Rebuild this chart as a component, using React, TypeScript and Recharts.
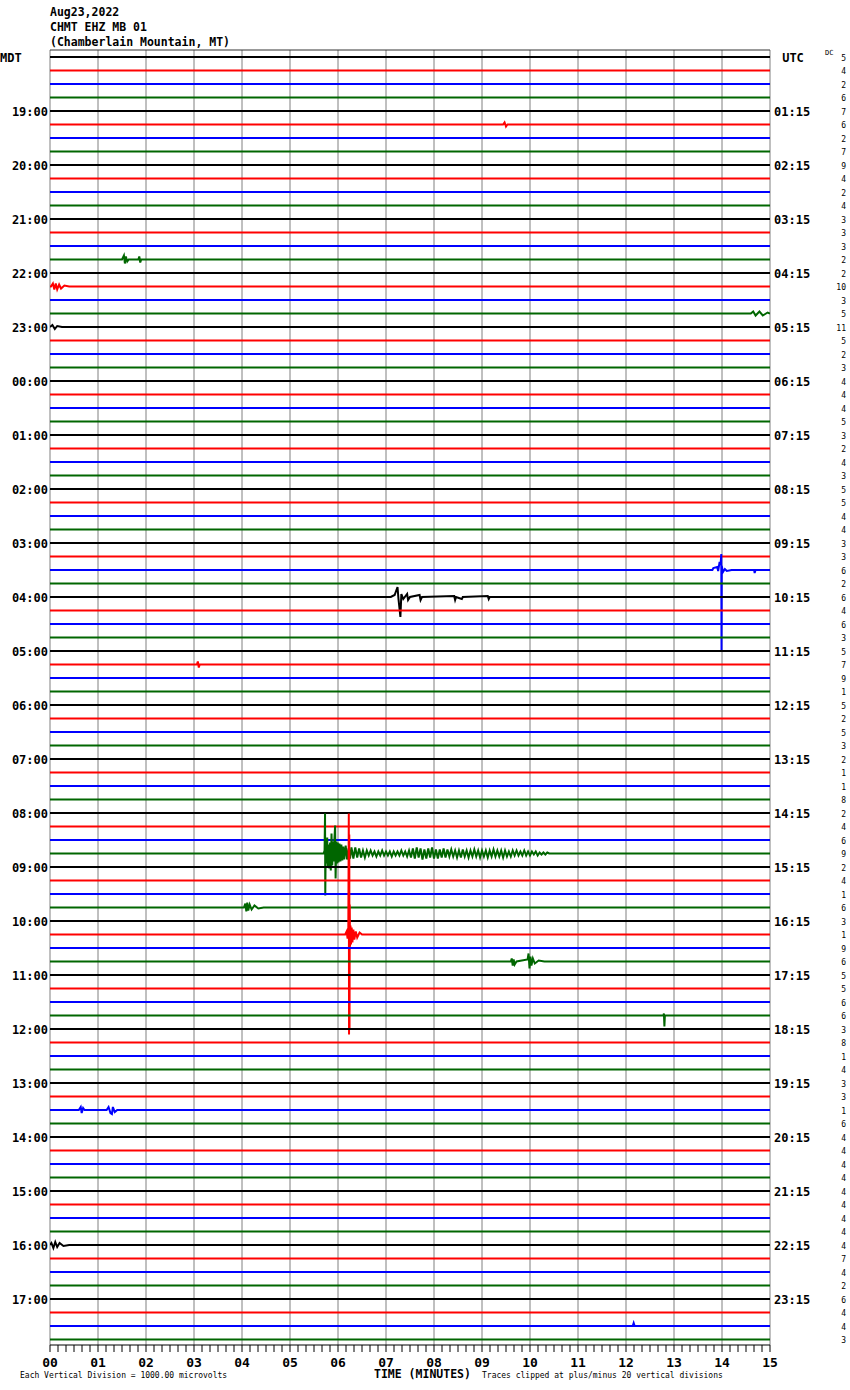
import { ComposedChart, Line, ReferenceLine, XAxis, YAxis } from "recharts";

// helicorder layout: 96 traces (15 min each), 13.5 px apart
const ROW_GAP = 13.5;
const ROWS = 96;
const PLOT_TOP = 50;
const PLOT_BOTTOM = 1345;
const FIRST_TRACE = 57;
const MONO = '"DejaVu Sans Mono", monospace';

const ROW_COLORS = ["#000000", "#ff0000", "#0000ff", "#006600"];

const HOUR_LABELS = [
  "MDT", "19:00", "20:00", "21:00", "22:00", "23:00", "00:00", "01:00",
  "02:00", "03:00", "04:00", "05:00", "06:00", "07:00", "08:00", "09:00",
  "10:00", "11:00", "12:00", "13:00", "14:00", "15:00", "16:00", "17:00",
];

const UTC_LABELS = [
  "UTC", "01:15", "02:15", "03:15", "04:15", "05:15", "06:15", "07:15",
  "08:15", "09:15", "10:15", "11:15", "12:15", "13:15", "14:15", "15:15",
  "16:15", "17:15", "18:15", "19:15", "20:15", "21:15", "22:15", "23:15",
];

const DC_VALUES = [
  5, 4, 2, 6, 7, 6, 2, 7, 9, 4, 2, 4, 3, 3, 3, 2,
  2, 10, 3, 5, 11, 5, 2, 3, 4, 4, 4, 5, 3, 2, 4, 3,
  5, 5, 4, 4, 3, 3, 6, 2, 6, 4, 6, 3, 5, 7, 9, 1,
  5, 2, 5, 3, 2, 1, 1, 8, 2, 4, 6, 9, 2, 4, 1, 6,
  3, 1, 9, 6, 5, 5, 6, 6, 3, 8, 1, 4, 3, 3, 1, 6,
  4, 4, 4, 4, 4, 4, 4, 4, 4, 7, 4, 2, 6, 4, 4, 3,
];

const MINUTE_LABELS = [
  "00", "01", "02", "03", "04", "05", "06", "07",
  "08", "09", "10", "11", "12", "13", "14", "15",
];

// events: [minute, deflection] — deflection in trace units (+ = down)
type Pt = [number, number];

const QUAKE_0845: Pt[] = [
  [5.7, 0], [5.72, -3], [5.73, -40], [5.735, 42], [5.745, -14], [5.76, 10],
  [5.775, -16], [5.79, 13], [5.805, -9], [5.82, 15], [5.835, -11], [5.85, 17],
  [5.865, -20], [5.88, 12], [5.895, -12], [5.91, 8], [5.925, -14], [5.94, -28],
  [5.95, 25], [5.965, -12], [5.98, 10], [5.995, -11], [6.01, 9], [6.03, -10],
  [6.05, 8], [6.07, -9], [6.09, 7], [6.11, -7], [6.13, 6], [6.16, -8],
  [6.19, 6], [6.22, -5], [6.25, 5], [6.28, -6],
];

// coda of the 08:45 quake, read every 0.04 min from 6.32
const CODA_0845_START = 6.32;
const CODA_0845_STEP = 0.04;
const CODA_0845 = [
  5, -6, 4, -5, 4, -3, 4, -3,
  2, -3, 2, -2, 3, -2, 2, -3, 2, -2, 2, -2, 3, -2, 2, -2, 2, -3, 2, -2, 3, -3,
  4, -5, 5, -6, 4, -5, 6, -4, 5, -5, 4, -6, 5, -4, 5, -4, 4, -5, 4, -4, 3,
  -4, 3, -3, 4, -3, 4, -4, 3, -3, 4, -3, 3, -4, 3, -3, 4, -3, 3, -3, 4,
  -3, 3, -4, 3, -3, 3, -3, 4, -3, 3, -2, 3, -3, 2,
  -3, 2, -2, 2, -3, 2, -2, 2, -2, 1, -2, 2, -1, 1, -1, 1, -1, 0,
];

const QUAKE_1015: Pt[] = [
  [6.15, 0], [6.18, -3], [6.2, 4], [6.215, -6], [6.225, -121], [6.23, 100],
  [6.235, -100], [6.24, 95], [6.245, -30], [6.25, 12], [6.26, -9], [6.27, 10],
  [6.285, -7], [6.3, 8], [6.32, -5], [6.34, 5], [6.37, -3], [6.4, 3],
  [6.45, -2], [6.5, 0],
];

const LOCAL_0945: Pt[] = [
  [4.04, 0], [4.07, -4], [4.09, 4], [4.11, -5], [4.13, 3], [4.16, -3],
  [4.2, 2], [4.26, -2], [4.34, 1], [4.45, 0],
];

const LOCAL_1045: Pt[] = [
  [9.6, 0], [9.62, -3], [9.64, 4], [9.66, -2], [9.68, 3], [9.72, 0],
  [9.95, -2], [9.97, -8], [9.99, 7], [10.01, -5], [10.03, 4], [10.06, -3],
  [10.1, 2], [10.18, -1], [10.3, 0],
];

const LOCAL_0400: Pt[] = [
  [7.1, 0], [7.18, -2], [7.24, -10], [7.26, 2], [7.3, 20], [7.32, -3],
  [7.36, 2], [7.44, -3], [7.46, 3], [7.5, 0], [7.7, -2], [7.72, 3],
  [7.75, 0], [8.42, -1], [8.44, 3], [8.46, 0], [8.58, 2], [8.6, 0],
  [9.12, -1], [9.14, 2], [9.16, 0],
];

const SPIKE_0330: Pt[] = [
  [13.8, 0], [13.82, -2], [13.9, -3], [13.92, 1], [13.95, -8], [13.97, -5],
  [13.985, -16], [13.99, 80], [13.995, -4], [14.02, 2], [14.06, -1],
  [14.1, 1], [14.2, 0], [14.67, 0], [14.68, 3], [14.7, 0],
];

const BURST_2145: Pt[] = [
  [1.5, 0], [1.54, -4], [1.56, 4], [1.58, -3], [1.61, 2], [1.64, 0],
  [1.84, 0], [1.86, -3], [1.88, 3], [1.9, 0],
];

const BURST_2215: Pt[] = [
  [0.02, 0], [0.06, -3], [0.09, 3], [0.12, -3], [0.15, 3], [0.19, -2],
  [0.23, 2], [0.3, -1], [0.4, 0],
];

const BURST_2245: Pt[] = [
  [14.6, 0], [14.65, -2], [14.7, 2], [14.78, -2], [14.85, 2], [14.95, -1],
];

const BURST_2300: Pt[] = [[0.05, -2], [0.1, 2], [0.15, -1], [0.25, 0]];

const BURST_1330: Pt[] = [
  [0.6, 0], [0.64, -3], [0.66, 3], [0.69, -2], [0.72, 0],
  [1.18, 0], [1.22, -3], [1.26, 3], [1.29, 4], [1.31, -3], [1.35, 2], [1.4, 0],
];

const SPIKE_1145: Pt[] = [[12.78, 0], [12.79, -2], [12.8, 11], [12.81, 0]];

const BURST_1600: Pt[] = [
  [0.03, -2], [0.07, 3], [0.11, -3], [0.15, 2], [0.2, -2], [0.28, 1], [0.4, 0],
];

const BLIP_1730: Pt[] = [[12.14, 0], [12.16, -3], [12.18, 0]];
const BLIP_1915: Pt[] = [[9.44, 0], [9.47, -2], [9.5, 2], [9.53, 0]];
const BLIP_0515: Pt[] = [[3.06, 0], [3.08, -3], [3.1, 3], [3.12, 0]];

const CODA_PTS: Pt[] = CODA_0845.map((a, i) => [CODA_0845_START + i * CODA_0845_STEP, a]);

const EVENT_ROWS: { row: number; pts: Pt[] }[] = [
  { row: 5, pts: BLIP_1915 },
  { row: 15, pts: BURST_2145 },
  { row: 17, pts: BURST_2215 },
  { row: 19, pts: BURST_2245 },
  { row: 20, pts: BURST_2300 },
  { row: 38, pts: SPIKE_0330 },
  { row: 40, pts: LOCAL_0400 },
  { row: 45, pts: BLIP_0515 },
  { row: 59, pts: [...QUAKE_0845, ...CODA_PTS] },
  { row: 63, pts: LOCAL_0945 },
  { row: 65, pts: QUAKE_1015 },
  { row: 67, pts: LOCAL_1045 },
  { row: 71, pts: SPIKE_1145 },
  { row: 78, pts: BURST_1330 },
  { row: 88, pts: BURST_1600 },
  { row: 94, pts: BLIP_1730 },
];

function traceData(row: number) {
  const ev = EVENT_ROWS.find((e) => e.row === row);
  const pts: Pt[] = [[0, 0], ...(ev ? ev.pts : []), [15, 0]];
  return pts.map(([t, a]) => ({ t, v: row + a / ROW_GAP }));
}

const Y_DOMAIN: [number, number] = [
  (PLOT_TOP - FIRST_TRACE) / ROW_GAP,
  (PLOT_BOTTOM - FIRST_TRACE) / ROW_GAP,
];

const ROW_IDS = Array.from({ length: ROWS }, (_, i) => i);
const HOUR_ROWS = HOUR_LABELS.map((_, i) => i * 4);
const X_TICKS = Array.from({ length: 91 }, (_, i) => i / 6);
const MINUTES = MINUTE_LABELS.map((_, i) => i);

function HourTick({ y, payload }: any) {
  const idx = Math.round(payload.value / 4);
  const base = { y: y + 1, dy: "0.35em", fontFamily: MONO, fontWeight: 700, fontSize: 12, fill: "#000" };
  if (idx === 0) return <text x={0} {...base}>{HOUR_LABELS[0]}</text>;
  return (
    <text x={48} textAnchor="end" {...base}>
      {HOUR_LABELS[idx]}
    </text>
  );
}

function RightTick({ y, payload }: any) {
  const row = payload.value as number;
  const utc = row % 4 === 0 ? UTC_LABELS[row / 4] : null;
  return (
    <g>
      {utc && (
        <text
          x={row === 0 ? 793 : 774}
          y={y + 1}
          dy="0.35em"
          textAnchor={row === 0 ? "middle" : "start"}
          fontFamily={MONO}
          fontWeight={700}
          fontSize={12}
          fill="#000"
        >
          {utc}
        </text>
      )}
      <text x={846} y={y + 1} dy="0.35em" textAnchor="end" fontFamily={MONO} fontSize={8} fill="#000">
        {DC_VALUES[row]}
      </text>
    </g>
  );
}

function MinuteTick({ x, payload }: any) {
  const v = payload.value as number;
  const idx = Math.round(v);
  const major = Math.abs(v - idx) < 1e-6;
  return (
    <g>
      <line x1={x} x2={x} y1={PLOT_BOTTOM} y2={PLOT_BOTTOM + 7} stroke="#000" />
      {major && (
        <text x={x} y={1362} dy="0.35em" textAnchor="middle" fontFamily={MONO} fontWeight={700} fontSize={13} fill="#000">
          {MINUTE_LABELS[idx]}
        </text>
      )}
    </g>
  );
}

export default function App() {
  return (
    <div style={{ position: "absolute", left: 0, top: 0, width: 850, height: 1390, background: "#fff" }}>
      <div
        style={{
          position: "absolute",
          left: 50,
          top: 5,
          fontFamily: MONO,
          fontWeight: 700,
          fontSize: 11.5,
          lineHeight: "15px",
          whiteSpace: "pre",
        }}
      >
        <div>Aug23,2022</div>
        <div>CHMT EHZ MB 01</div>
        <div>(Chamberlain Mountain, MT)</div>
      </div>
      <div style={{ position: "absolute", left: 825, top: 49, fontFamily: MONO, fontSize: 7 }}>DC</div>
      <ComposedChart width={850} height={1390} margin={{ top: PLOT_TOP, right: 0, bottom: 0, left: 0 }}>
        <XAxis
          dataKey="t"
          type="number"
          domain={[0, 15]}
          ticks={X_TICKS}
          interval={0}
          height={1390 - PLOT_BOTTOM}
          tickLine={false}
          tick={<MinuteTick />}
          axisLine={{ stroke: "#000" }}
          allowDataOverflow
        />
        <YAxis
          type="number"
          domain={Y_DOMAIN}
          reversed
          width={50}
          ticks={HOUR_ROWS}
          interval={0}
          tick={<HourTick />}
          tickLine={false}
          axisLine={false}
          allowDataOverflow
        />
        <YAxis
          yAxisId="r"
          orientation="right"
          type="number"
          domain={Y_DOMAIN}
          reversed
          width={80}
          ticks={ROW_IDS}
          interval={0}
          tick={<RightTick />}
          tickLine={false}
          axisLine={false}
          allowDataOverflow
        />
        {MINUTES.map((m) => (
          <ReferenceLine key={`m${m}`} x={m} stroke="#808080" strokeWidth={1} />
        ))}
        <ReferenceLine y={Y_DOMAIN[0]} stroke="#333" strokeWidth={1} />
        {ROW_IDS.map((row) => (
          <Line
            key={row}
            data={traceData(row)}
            dataKey="v"
            type="linear"
            stroke={ROW_COLORS[row % 4]}
            strokeWidth={2}
            dot={false}
            activeDot={false}
            isAnimationActive={false}
          />
        ))}
      </ComposedChart>
      <div
        style={{
          position: "absolute",
          left: 374,
          top: 1367,
          fontFamily: MONO,
          fontWeight: 700,
          fontSize: 11.5,
          whiteSpace: "pre",
        }}
      >
        TIME (MINUTES)
      </div>
      <div style={{ position: "absolute", left: 20, top: 1371, fontFamily: MONO, fontSize: 8, whiteSpace: "pre" }}>
        Each Vertical Division = 1000.00 microvolts
      </div>
      <div style={{ position: "absolute", left: 482, top: 1371, fontFamily: MONO, fontSize: 8, whiteSpace: "pre" }}>
        Traces clipped at plus/minus 20 vertical divisions
      </div>
    </div>
  );
}
